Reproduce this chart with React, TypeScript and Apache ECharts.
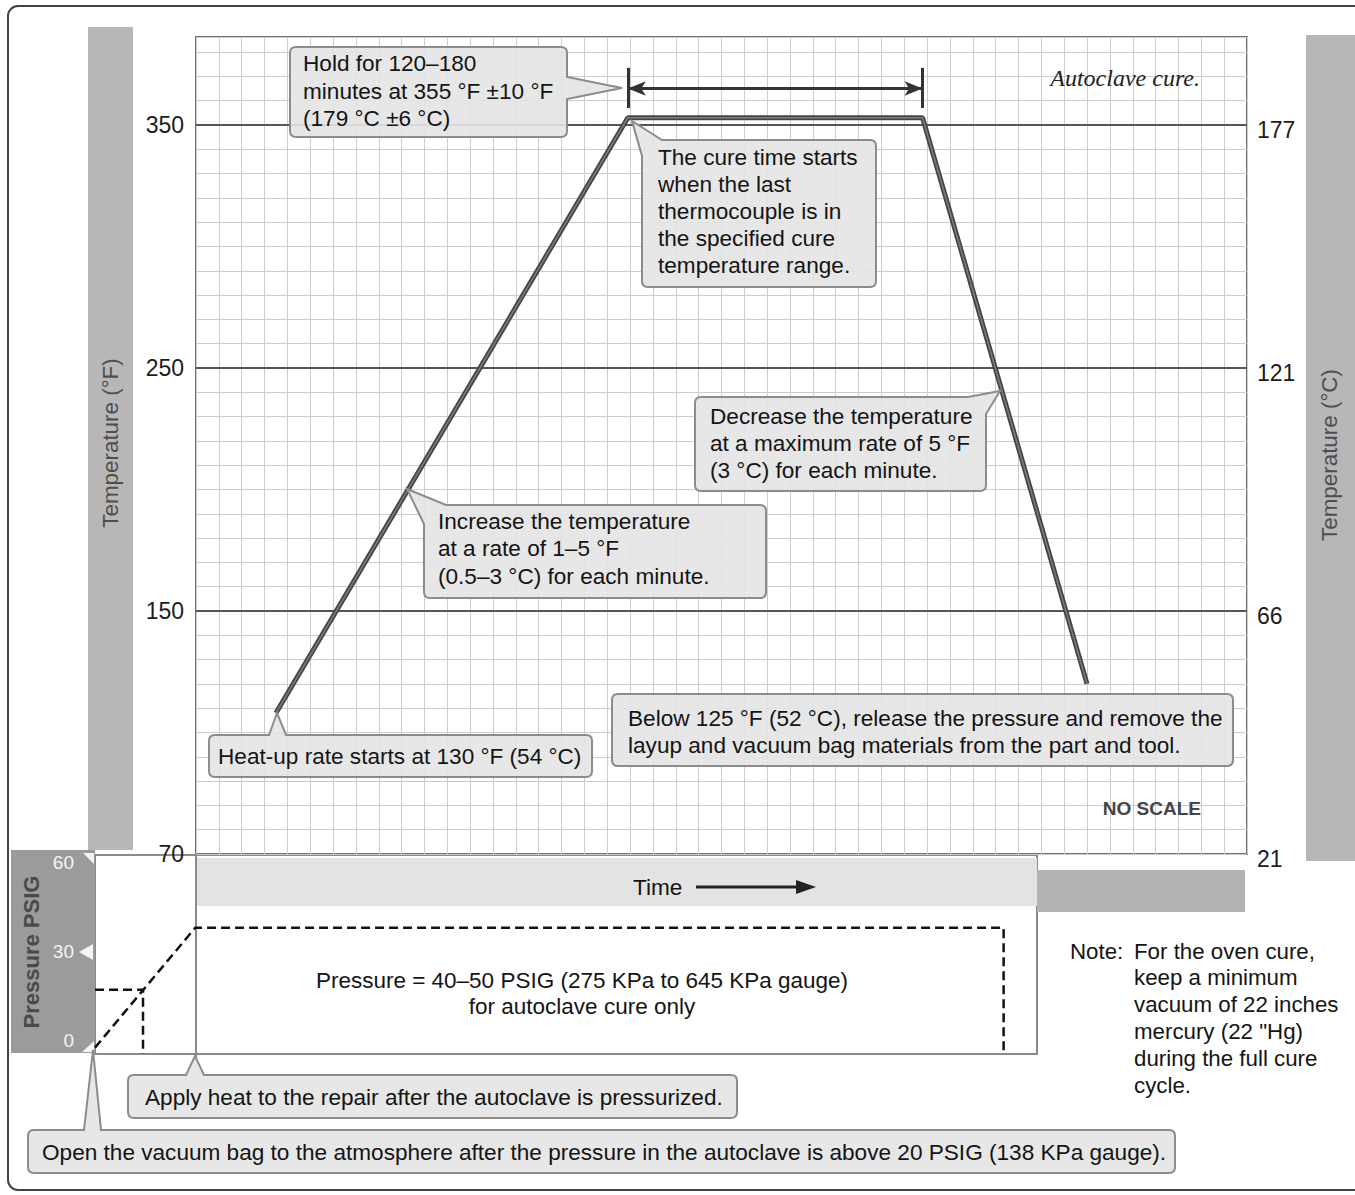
import React, { useEffect, useRef } from "react";
import * as echarts from "echarts";

// ---- data ----
const tempTime = [3.5, 18.9, 31.8, 39.0]; // time units (no scale)
const tempF = [108, 353, 353, 120];
const majorF = [150, 250, 350];
const leftLabels: Record<number, string> = { 50: "70", 150: "150", 250: "250", 350: "350" };
const rightLabels: Record<number, string> = { 50: "21", 150: "66", 250: "121", 350: "177" };
const holdArrowF = 365;
const holdTickTopF = 373.5;
const holdTickBottomF = 357;
const pressureTime = [0, 4.38, 39.74, 39.74];
const pressurePsig = [0, 37.3, 37.3, -2];
const ventTime = [0, 2.1, 2.1];
const ventPsig = [18, 18, -2];
const pressureTicks = [0, 30, 60];

const FONT = '"Liberation Sans", Arial, Helvetica, sans-serif';
const TXT = "#141414";
const FS = 22.6;

type V = [number, number, number];
function roundedPath(pts: V[]): string {
  const n = pts.length;
  let d = "";
  for (let i = 0; i < n; i++) {
    const [x, y, r] = pts[i];
    const cmd = i === 0 ? "M" : "L";
    if (r > 0) {
      const p = pts[(i - 1 + n) % n];
      const q = pts[(i + 1) % n];
      const l1 = Math.hypot(p[0] - x, p[1] - y);
      const l2 = Math.hypot(q[0] - x, q[1] - y);
      const a = [x + ((p[0] - x) / l1) * r, y + ((p[1] - y) / l1) * r];
      const b = [x + ((q[0] - x) / l2) * r, y + ((q[1] - y) / l2) * r];
      d += `${cmd}${a[0]} ${a[1]} Q${x} ${y} ${b[0]} ${b[1]} `;
    } else {
      d += `${cmd}${x} ${y} `;
    }
  }
  return d + "Z";
}

const callouts: V[][] = [
  // Hold
  [[290, 47, 6], [567, 47, 6], [567, 77, 0], [622, 88, 0], [567, 99, 0], [567, 137, 6], [290, 137, 6]],
  // Cure time
  [[632, 121, 0], [662, 140, 0], [876, 140, 6], [876, 287, 6], [642, 287, 6], [642, 156, 0]],
  // Decrease
  [[695, 397, 6], [968, 397, 0], [1000, 391, 0], [986, 414, 0], [986, 491, 6], [695, 491, 6]],
  // Increase
  [[407, 489, 0], [446, 505, 0], [766, 505, 6], [766, 598, 6], [424, 598, 6], [424, 524, 0]],
  // Heat-up
  [[209, 735, 6], [269, 735, 0], [277, 713, 0], [286, 735, 0], [592, 735, 6], [592, 777, 6], [209, 777, 6]],
  // Below 125
  [[612, 694, 6], [1233, 694, 6], [1233, 766, 6], [612, 766, 6]],
  // Apply heat
  [[128, 1075, 6], [186, 1075, 0], [195, 1056, 0], [204, 1075, 0], [737, 1075, 6], [737, 1118, 6], [128, 1118, 6]],
  // Open vacuum bag
  [[28, 1130, 6], [84, 1130, 0], [93, 1050, 0], [101, 1130, 0], [1175, 1130, 6], [1175, 1173, 6], [28, 1173, 6]],
];

const textBlocks: { x: number; ys: number[]; lines: string[]; size?: number }[] = [
  { x: 303, ys: [63, 91, 118], lines: ["Hold for 120–180", "minutes at 355 °F ±10 °F", "(179 °C ±6 °C)"] },
  {
    x: 658,
    ys: [157, 184, 211, 238, 265],
    lines: ["The cure time starts", "when the last", "thermocouple is in", "the specified cure", "temperature range."],
  },
  { x: 710, ys: [416, 443, 470], lines: ["Decrease the temperature", "at a maximum rate of 5 °F", "(3 °C) for each minute."] },
  { x: 438, ys: [521, 548, 576], lines: ["Increase the temperature", "at a rate of 1–5 °F", "(0.5–3 °C) for each minute."] },
  { x: 218, ys: [756], lines: ["Heat-up rate starts at 130 °F (54 °C)"] },
  {
    x: 628,
    ys: [718, 745],
    lines: ["Below 125 °F (52 °C), release the pressure and remove the", "layup and vacuum bag materials from the part and tool."],
  },
  { x: 145, ys: [1097], lines: ["Apply heat to the repair after the autoclave is pressurized."] },
  {
    x: 42,
    ys: [1152],
    lines: ["Open the vacuum bag to the atmosphere after the pressure in the autoclave is above 20 PSIG (138 KPa gauge)."],
  },
  { x: 1070, ys: [951], lines: ["Note:"], size: 22.3 },
  {
    x: 1134,
    ys: [951, 977, 1004, 1031, 1058, 1085],
    lines: ["For the oven cure,", "keep a minimum", "vacuum of 22 inches", "mercury (22 \"Hg)", "during the full cure", "cycle."],
    size: 22.3,
  },
];

function buildGraphics(): any[] {
  const g: any[] = [];
  // outer frame
  g.push({
    type: "rect",
    shape: { x: 8, y: 6, width: 1380, height: 1184, r: 10 },
    style: { fill: "none", stroke: "#444", lineWidth: 2 },
    z: 0,
  });
  // side bands
  g.push({ type: "rect", shape: { x: 88, y: 27, width: 45, height: 823 }, style: { fill: "#b7b7b7" }, z: 1 });
  g.push({ type: "rect", shape: { x: 1306, y: 35, width: 49, height: 826 }, style: { fill: "#b7b7b7" }, z: 1 });
  g.push({
    type: "text",
    x: 110,
    y: 443,
    rotation: Math.PI / 2,
    style: { text: "Temperature (°F)", font: `22.4px ${FONT}`, fill: "#4e4e4e", align: "center", verticalAlign: "middle" },
    z: 3,
  });
  g.push({
    type: "text",
    x: 1329,
    y: 455,
    rotation: Math.PI / 2,
    style: { text: "Temperature (°C)", font: `22.4px ${FONT}`, fill: "#4e4e4e", align: "center", verticalAlign: "middle" },
    z: 3,
  });
  // pressure panel
  g.push({ type: "rect", shape: { x: 11, y: 850, width: 84, height: 203 }, style: { fill: "#9b9b9b" }, z: 1 });
  g.push({
    type: "text",
    x: 31,
    y: 952,
    rotation: Math.PI / 2,
    style: { text: "Pressure PSIG", font: `bold 22px ${FONT}`, fill: "#4a4a4a", align: "center", verticalAlign: "middle" },
    z: 3,
  });
  g.push({ type: "polygon", shape: { points: [[83, 853], [94, 853], [94, 864]] }, style: { fill: "#f4f4f4" }, z: 3 });
  g.push({ type: "polygon", shape: { points: [[79, 952], [93, 944], [93, 960]] }, style: { fill: "#f4f4f4" }, z: 3 });
  g.push({ type: "polygon", shape: { points: [[82, 1052], [94, 1041], [94, 1052]] }, style: { fill: "#f4f4f4" }, z: 3 });
  // time bands
  g.push({ type: "rect", shape: { x: 197, y: 858, width: 840, height: 48 }, style: { fill: "#e3e3e3" }, z: 1 });
  g.push({ type: "rect", shape: { x: 1037, y: 870, width: 208, height: 42 }, style: { fill: "#b3b3b3" }, z: 1 });
  g.push({
    type: "text",
    x: 633,
    y: 887,
    style: { text: "Time", font: `${FS}px ${FONT}`, fill: TXT, align: "left", verticalAlign: "middle" },
    z: 3,
  });
  g.push({ type: "line", shape: { x1: 696, y1: 887, x2: 800, y2: 887 }, style: { stroke: "#222", lineWidth: 3 }, z: 3 });
  g.push({ type: "polygon", shape: { points: [[796, 880], [816, 887], [796, 894]] }, style: { fill: "#222" }, z: 3 });
  // vertical line from main grid edge down to pressure callout
  g.push({ type: "line", shape: { x1: 196, y1: 854, x2: 196, y2: 1060 }, style: { stroke: "#8a8a8a", lineWidth: 2 }, z: 4 });

  // callouts
  callouts.forEach((pts, i) => {
    const name = "resketchCallout" + i;
    echarts.graphic.registerShape(name, echarts.graphic.extendPath(roundedPath(pts), {}));
    g.push({
      type: name,
      x: 0,
      y: 0,
      style: { fill: "rgba(228,228,228,0.9)", stroke: "#8c8c8c", lineWidth: 2 },
      z: 10,
    });
  });
  textBlocks.forEach((b) => {
    b.lines.forEach((line, j) => {
      g.push({
        type: "text",
        x: b.x,
        y: b.ys[j],
        style: { text: line, font: `${b.size ?? FS}px ${FONT}`, fill: TXT, align: "left", verticalAlign: "middle" },
        z: 11,
      });
    });
  });
  // pressure text (centered)
  [
    ["Pressure = 40–50 PSIG (275 KPa to 645 KPa gauge)", 980],
    ["for autoclave cure only", 1006],
  ].forEach(([t, y]) => {
    g.push({
      type: "text",
      x: 582,
      y: y as number,
      style: { text: t as string, font: `22.5px ${FONT}`, fill: TXT, align: "center", verticalAlign: "middle" },
      z: 11,
    });
  });
  g.push({
    type: "text",
    x: 1200,
    y: 78,
    style: { text: "Autoclave cure.", font: `italic 24px "Liberation Serif", serif`, fill: "#222", align: "right", verticalAlign: "middle" },
    z: 11,
  });
  g.push({
    type: "text",
    x: 1201,
    y: 808,
    style: { text: "NO SCALE", font: `bold 19px ${FONT}`, fill: "#444", align: "right", verticalAlign: "middle" },
    z: 11,
  });
  return g;
}

export default function App() {
  const ref = useRef<HTMLDivElement>(null);
  useEffect(() => {
    document.body.style.margin = "0";
    const chart = echarts.init(ref.current!, null, { renderer: "svg" });
    const axisText = { fontSize: 23, fontFamily: FONT, color: "#1c1c1c" };
    const pLabel = { fontSize: 19, fontFamily: FONT, color: "#f4f4f4" };
    const option: any = {
      animation: false,
      backgroundColor: "#fff",
      grid: [
        { left: 196, right: 108, top: 37, bottom: 341, show: true, backgroundColor: "#fff", borderColor: "#707070", borderWidth: 2 },
        { left: 95, right: 318, top: 855, bottom: 141, show: true, backgroundColor: "#fff", borderColor: "#8a8a8a", borderWidth: 2 },
      ],
      xAxis: [
        {
          gridIndex: 0,
          type: "value",
          min: 0,
          max: 46,
          interval: 1,
          axisLine: { show: false },
          axisTick: { show: false },
          axisLabel: { show: false },
          splitLine: { show: true, lineStyle: { color: "#cdcdcd", width: 1 } },
        },
        { gridIndex: 1, type: "value", min: 0, max: 41.2, show: false, splitLine: { show: false } },
      ],
      yAxis: [
        {
          gridIndex: 0,
          type: "value",
          min: 50,
          max: 386.2,
          interval: 10,
          axisLine: { show: false },
          axisTick: { show: false },
          axisLabel: { ...axisText, margin: 12, formatter: (v: number) => leftLabels[v] ?? "" },
          splitLine: { show: true, lineStyle: { color: "#cdcdcd", width: 1 } },
        },
        {
          gridIndex: 0,
          type: "value",
          position: "right",
          min: 50,
          max: 386.2,
          interval: 10,
          axisLine: { show: false },
          axisTick: { show: false },
          axisLabel: {
            ...axisText,
            margin: 10,
            formatter: (v: number) => (rightLabels[v] ? `{c|${rightLabels[v]}}` : ""),
            rich: { c: { ...axisText, padding: [10, 0, 0, 0] } },
          },
          splitLine: { show: false },
        },
        {
          gridIndex: 1,
          type: "value",
          min: -2,
          max: 60,
          z: 6,
          axisLine: { show: false },
          axisTick: { show: false },
          splitLine: { show: false },
          axisLabel: {
            customValues: pressureTicks,
            margin: 21,
            ...pLabel,
            formatter: (v: number) => (v === 60 ? "{t|60}" : v === 0 ? "{b|0}" : "{m|30}"),
            rich: {
              t: { ...pLabel, padding: [14, 0, 0, 0] },
              b: { ...pLabel, padding: [0, 0, 14, 0] },
              m: { ...pLabel },
            },
          },
        },
      ],
      graphic: { elements: buildGraphics() },
      series: [
        {
          name: "Major lines",
          type: "line",
          xAxisIndex: 0,
          yAxisIndex: 0,
          data: [],
          silent: true,
          markLine: {
            symbol: ["none", "none"],
            silent: true,
            label: { show: false },
            lineStyle: { color: "#555", width: 2, type: "solid" },
            data: majorF.map((v) => ({ yAxis: v })),
          },
        },
        {
          name: "Temperature",
          type: "line",
          xAxisIndex: 0,
          yAxisIndex: 0,
          data: tempTime.map((t, i) => [t, tempF[i]]),
          symbol: "none",
          lineStyle: { color: "#454545", width: 5 },
          z: 5,
        },
        {
          name: "Temperature core",
          type: "line",
          xAxisIndex: 0,
          yAxisIndex: 0,
          data: tempTime.map((t, i) => [t, tempF[i]]),
          symbol: "none",
          lineStyle: { color: "#7d7d7d", width: 1.5 },
          z: 6,
        },
        {
          name: "Hold arrow",
          type: "line",
          xAxisIndex: 0,
          yAxisIndex: 0,
          data: [],
          markLine: {
            silent: true,
            symbol: ["none", "none"],
            label: { show: false },
            lineStyle: { color: "#333", width: 3, type: "solid" },
            data: [
              [
                { coord: [tempTime[1], holdArrowF], symbol: "arrow", symbolSize: [11, 18] },
                { coord: [tempTime[2], holdArrowF], symbol: "arrow", symbolSize: [11, 18] },
              ],
              [{ coord: [tempTime[1], holdTickTopF] }, { coord: [tempTime[1], holdTickBottomF] }],
              [{ coord: [tempTime[2], holdTickTopF] }, { coord: [tempTime[2], holdTickBottomF] }],
            ],
          },
        },
        {
          name: "Pressure",
          type: "line",
          xAxisIndex: 1,
          yAxisIndex: 2,
          data: pressureTime.map((t, i) => [t, pressurePsig[i]]),
          symbol: "none",
          lineStyle: { color: "#111", width: 2.5, type: [9, 5] },
          z: 5,
        },
        {
          name: "Vent point",
          type: "line",
          xAxisIndex: 1,
          yAxisIndex: 2,
          data: ventTime.map((t, i) => [t, ventPsig[i]]),
          symbol: "none",
          lineStyle: { color: "#111", width: 2.5, type: [9, 5] },
          z: 5,
        },
      ],
    };
    chart.setOption(option);
    return () => chart.dispose();
  }, []);
  return <div ref={ref} style={{ width: 1355, height: 1195 }} />;
}
